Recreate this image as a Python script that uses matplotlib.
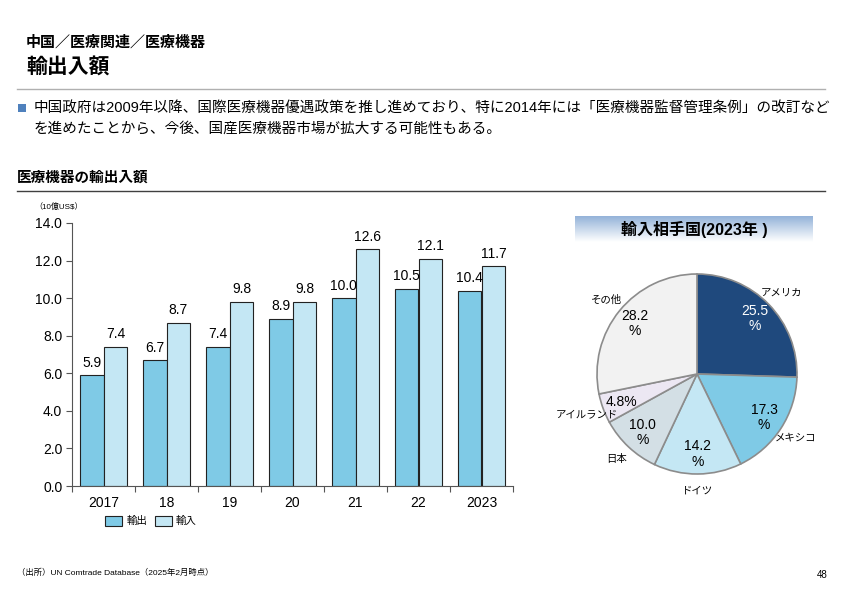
"""
China medical devices: export / import values and import partner share
"""

import numpy as np
import matplotlib
matplotlib.use("Agg")
import matplotlib.pyplot as plt
from matplotlib.patches import Rectangle
from matplotlib.lines import Line2D

plt.rcParams['font.family'] = ['Liberation Sans', 'Noto Sans CJK JP', 'DejaVu Sans']

# data
years = ['2017', '18', '19', '20', '21', '22', '2023']
exports = [5.9, 6.7, 7.4, 8.9, 10.0, 10.5, 10.4]
imports = [7.4, 8.7, 9.8, 9.8, 12.6, 12.1, 11.7]
y_ticks = [0, 2, 4, 6, 8, 10, 12, 14]

partners = ['アメリカ', 'メキシコ', 'ドイツ', '日本', 'アイルランド', 'その他']
shares = [25.5, 17.3, 14.2, 10.0, 4.8, 28.2]

# colours
c_exp = '#7FCAE6'
c_imp = '#C4E7F4'
pie_colors = ['#1F497D', '#7FCAE6', '#C4E7F4', '#D3DFE5', '#ECE7F3', '#F2F2F2']

W, H = 842, 595
fig = plt.figure(figsize=(W / 100, H / 100), dpi=100)


def fx(px):
    return px / W


def fy(py):
    return 1 - py / H


# header
fig.text(fx(26), fy(42), '中国／医療関連／医療機器', fontsize=10.8, fontweight='bold', va='center')
fig.text(fx(26), fy(68), '輸出入額', fontsize=15, fontweight='bold', va='center')
fig.add_artist(Line2D([fx(17), fx(825)], [fy(89), fy(89)], color='#B0B0B0', lw=1))

fig.add_artist(Rectangle((fx(18), fy(112)), fx(8), 8 / H, color='#4F81BD', lw=0))
fig.text(fx(34), fy(108), '中国政府は2009年以降、国際医療機器優遇政策を推し進めており、特に2014年には「医療機器監督管理条例」の改訂など',
         fontsize=10.5, va='center')
fig.text(fx(34), fy(129), 'を進めたことから、今後、国産医療機器市場が拡大する可能性もある。', fontsize=10.5, va='center')

fig.text(fx(17), fy(178), '医療機器の輸出入額', fontsize=10.5, fontweight='bold', va='center')
fig.add_artist(Line2D([fx(17), fx(825)], [fy(191), fy(191)], color='#404040', lw=1))

fig.text(fx(34), fy(207), '（10億US$）', fontsize=5.8, va='center')

# bar chart
ax = fig.add_axes([fx(72), fy(486), fx(513) - fx(72), fy(223) - fy(486)])
x = np.arange(len(years))
bw = 0.38
b1 = ax.bar(x - bw / 2, exports, bw, color=c_exp, edgecolor='#222222', lw=0.8, label='輸出')
b2 = ax.bar(x + bw / 2, imports, bw, color=c_imp, edgecolor='#222222', lw=0.8, label='輸入')
for bars in (b1, b2):
    ax.bar_label(bars, labels=[f'{v:.1f}' for v in bars.datavalues], padding=4, fontsize=10)

ax.set_ylim(0, 14)
ax.set_xlim(-0.5, len(years) - 0.5)
ax.set_yticks(y_ticks)
ax.set_yticklabels([f'{v:.1f}' for v in y_ticks], fontsize=10)
ax.set_xticks(np.arange(len(years) + 1) - 0.5)
ax.set_xticklabels([])
ax.set_xticks(x, minor=True)
ax.set_xticklabels(years, minor=True, fontsize=10)
ax.tick_params(axis='x', which='minor', length=0, pad=7)
ax.tick_params(axis='x', which='major', length=4, color='#555555')
ax.tick_params(axis='y', length=4, color='#555555', pad=3)
for s in ['top', 'right']:
    ax.spines[s].set_visible(False)
for s in ['left', 'bottom']:
    ax.spines[s].set_color('#555555')

fig.legend(handles=[b1, b2], loc='center left', bbox_to_anchor=(fx(96), fy(521)), ncol=2,
           frameon=False, fontsize=7.5, handlelength=1.6, handleheight=1.1, columnspacing=0.8,
           handletextpad=0.4)

# pie title box with gradient
tax = fig.add_axes([fx(575), fy(242), fx(813) - fx(575), fy(216) - fy(242)])
grad = np.linspace(0, 1, 50).reshape(-1, 1)
top = np.array([0.58, 0.70, 0.85])
bot = np.array([1.0, 1.0, 1.0])
img = top[None, None, :] * (1 - grad[:, :, None]) + bot[None, None, :] * grad[:, :, None]
img = np.clip(img, 0, 1)
tax.imshow(img, aspect='auto', extent=[0, 1, 0, 1])
tax.axis('off')
tax.text(0.5, 0.5, '輸入相手国(2023年 )', ha='center', va='center', fontsize=11.5, fontweight='bold')

# pie
pax = fig.add_axes([fx(572), fy(499), 250 / W, 250 / H])
wedges, texts, autotexts = pax.pie(
    shares, labels=partners, colors=pie_colors, startangle=90, counterclock=False,
    autopct='%1.1f', pctdistance=0.8, labeldistance=1.17,
    wedgeprops=dict(edgecolor='#8C8C8C', linewidth=1.2), textprops=dict(fontsize=7.5))
for t, v in zip(autotexts, shares):
    t.set_text(f'{v:.1f}%' if v < 5 else f'{v:.1f}\n%')
    t.set_fontsize(10)
    t.set_linespacing(1.1)
autotexts[0].set_color('white')
for t in texts:
    t.set_ha('center')
pax.set_xlim(-1.25, 1.25)
pax.set_ylim(-1.25, 1.25)

# footer
fig.text(fx(17), fy(573), '（出所）UN Comtrade Database（2025年2月時点）', fontsize=6, va='center')
fig.text(fx(828), fy(575), '48', fontsize=7, va='center', ha='right')

plt.savefig('out.png', dpi=100)
